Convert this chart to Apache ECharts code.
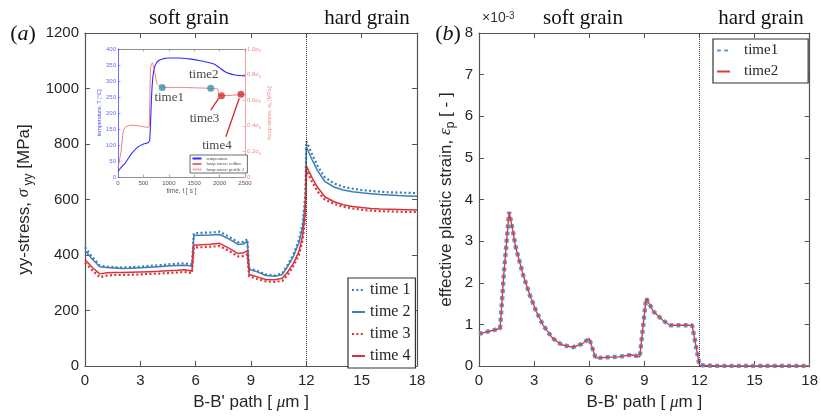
<!DOCTYPE html>
<html><head><meta charset="utf-8">
<script src="https://cdn.jsdelivr.net/npm/echarts@6/dist/echarts.min.js"></script>
<style>html,body{margin:0;padding:0;background:#fff}#c{width:821px;height:416px}</style>
</head><body><div id="c"></div>
<script>
// ---- panel (a): yy-stress along B-B' path ----
const pathX = [0,0.4,0.8,1.2,1.6,2.0,2.5,3.0,3.5,4.0,4.5,5.0,5.4,5.8,5.9,6.3,6.8,7.3,7.8,8.3,8.6,8.8,8.9,9.3,9.8,10.3,10.7,11.0,11.3,11.6,11.8,11.95,12.0,12.3,12.6,13.0,13.5,14.0,14.5,15.0,15.5,16.0,16.5,17.0,17.5,18.0];
const stressTime1 = [428,392,362,358,356,355,356,358,361,363,366,369,370,366,478,480,481,484,466,446,447,457,352,344,330,326,334,366,402,455,512,620,810,765,722,680,658,646,639,634,631,628,626,625,624,623];
const stressTime2 = [416,385,358,355,353,351,352,354,356,358,360,362,363,360,470,471,472,474,458,438,440,450,348,340,326,323,330,360,395,445,500,600,790,745,705,665,645,634,628,624,621,618,616,614,613,612];
const stressTime3 = [371,345,320,326,328,328,329,330,332,333,335,337,339,335,427,428,430,432,415,395,396,402,323,315,305,303,307,330,360,400,455,540,705,665,630,600,584,574,568,563,560,558,557,556,555,555];
const stressTime4 = [383,355,332,336,337,337,338,339,340,341,343,345,347,342,435,437,439,442,425,405,408,416,330,322,312,311,316,340,370,413,470,560,720,680,645,610,592,581,575,571,568,566,565,564,563,562];
const stressNames = ['time 1','time 2','time 3','time 4'];

// ---- panel (b): effective plastic strain (x10^-3) ----
const strainX = [0,0.5,1.15,1.35,1.64,1.82,2.0,2.4,2.76,3.12,3.48,4.0,4.5,5.1,5.6,6.0,6.35,7.0,7.6,8.3,8.75,9.1,9.5,10.0,10.4,11.0,11.6,12.0,13.0,14.0,15.0,16.0,17.0,18.0];
const strainTime1 = [0.77,0.83,0.90,2.20,3.70,3.30,2.85,2.19,1.71,1.31,0.99,0.67,0.51,0.45,0.53,0.66,0.19,0.21,0.22,0.27,0.22,1.63,1.31,1.10,0.98,0.98,0.98,0.02,0,0,0,0,0,0];
const strainTime2 = [0.77,0.83,0.90,2.20,3.70,3.30,2.85,2.19,1.71,1.31,0.99,0.67,0.51,0.45,0.53,0.66,0.19,0.21,0.22,0.27,0.22,1.63,1.31,1.10,0.98,0.98,0.98,0.02,0,0,0,0,0,0];
const strainNames = ['time1','time2'];

// ---- inset: temperature and hoop stress history ----
const timeT = [0,50,140,270,400,500,600,625,645,665,690,730,800,900,1000,1200,1400,1600,1800,1900,1950,2000,2100,2200,2300,2400,2500];
const temperature = [17,28,43,74,95,103,108,118,190,265,318,348,364,370,372,372,369,364,357,352,347,341,330,323,319,317,316];
const timeH = [0,60,105,150,200,270,400,600,615,640,660,680,700,734,768,833,900,1200,1500,1800,1900,1960,1975,1990,2100,2300,2500];
const hoopStress = [0.07,0.20,0.36,0.39,0.40,0.405,0.40,0.388,0.40,0.85,0.88,0.893,0.86,0.797,0.73,0.705,0.70,0.70,0.697,0.693,0.69,0.688,0.66,0.635,0.636,0.64,0.645];
const hoopProfile2 = [];
const markerNames = ['time1','time2','time3','time4'];
const markerT = [870,1825,2037,2420];
const markerV = [0.70,0.693,0.635,0.646];
const arrowFrom = [[1825,0.523],[2123,0.315]];
const arrowTo = [[1984,0.617],[2387,0.615]];
const insetNames = ['temperature','hoop stress: redline','hoop stress: profile 2'];

const blue = '#3f7db8', red = '#d9343a', axisColor = '#555', txt = '#262626';
const sans = 'Liberation Sans, Arial, sans-serif';
const serif = 'Liberation Serif, Times New Roman, serif';
const pairs = (xs, ys) => xs.map((x, i) => [x, ys[i]]);
const plain = v => String(v);

function frameX(gridIndex, position, min, max, interval, showLabel, extra) {
  return Object.assign({
    type: 'value', gridIndex, position, min, max, interval,
    axisLine: {show: true, onZero: false, lineStyle: {color: axisColor, width: 1.2}},
    axisTick: {show: true, inside: true, length: 5, lineStyle: {color: axisColor}},
    axisLabel: {show: showLabel, color: txt, fontSize: 15, fontFamily: sans, margin: 7, formatter: plain},
    splitLine: {show: false}
  }, extra || {});
}
function frameY(gridIndex, position, min, max, interval, showLabel, extra) {
  return Object.assign({
    type: 'value', gridIndex, position, min, max, interval,
    axisLine: {show: true, onZero: false, lineStyle: {color: axisColor, width: 1.2}},
    axisTick: {show: true, inside: true, length: 5, lineStyle: {color: axisColor}},
    axisLabel: {show: showLabel, color: txt, fontSize: 15, fontFamily: sans, margin: 6, formatter: plain},
    splitLine: {show: false}
  }, extra || {});
}
const xName = {
  name: "B-B' path [ {i|μ}m ]", nameLocation: 'middle', nameGap: 28,
  nameTextStyle: {fontSize: 17, color: txt, fontFamily: sans, rich: {i: {fontSize: 17, fontStyle: 'italic', fontFamily: serif, color: txt}}}
};
const subRich = {
  i: {fontSize: 17, fontStyle: 'italic', fontFamily: serif, color: txt, lineHeight: 22},
  s: {fontSize: 12, fontFamily: sans, color: txt, verticalAlign: 'bottom', lineHeight: 12}
};
const vline = {silent: true, symbol: 'none', label: {show: false}, data: [{xAxis: 12}],
  lineStyle: {type: 'dotted', color: '#333', width: 1}};
const noSymbol = {color: 'rgba(0,0,0,0)', borderWidth: 0, opacity: 0};

const insetAxisTick = {show: true, inside: true, length: 2.5};
const option = {
  animation: false,
  backgroundColor: '#fff',
  grid: [
    {left: 85, top: 33, width: 332, height: 333},
    {left: 118, top: 49, width: 127, height: 128, show: true, backgroundColor: '#fff', borderWidth: 0, z: 5},
    {left: 479, top: 33, width: 333, height: 333}
  ],
  xAxis: [
    frameX(0, 'bottom', 0, 18, 3, true, xName),
    frameX(0, 'top', 0, 18, 3, false),
    {type: 'value', gridIndex: 1, position: 'bottom', min: 0, max: 2500, interval: 500, z: 6,
      axisLine: {show: true, onZero: false, lineStyle: {color: '#777', width: 0.8}},
      axisTick: Object.assign({lineStyle: {color: '#777', width: 0.6}}, insetAxisTick),
      axisLabel: {color: '#555', fontSize: 6, fontFamily: sans, margin: 3, formatter: plain},
      splitLine: {show: false},
      name: 'time, t [ s ]', nameLocation: 'middle', nameGap: 11, nameTextStyle: {fontSize: 6.5, color: '#555', fontFamily: sans}},
    {type: 'value', gridIndex: 1, position: 'top', min: 0, max: 2500, interval: 500, z: 6,
      axisLine: {show: true, onZero: false, lineStyle: {color: '#777', width: 0.8}},
      axisTick: Object.assign({lineStyle: {color: '#777', width: 0.6}}, insetAxisTick),
      axisLabel: {show: false}, splitLine: {show: false}},
    frameX(2, 'bottom', 0, 18, 3, true, xName),
    frameX(2, 'top', 0, 18, 3, false)
  ],
  yAxis: [
    frameY(0, 'left', 0, 1200, 200, true, {
      name: 'yy-stress, {i|σ}{s| yy} [MPa]', nameLocation: 'middle', nameGap: 50, nameRotate: 90,
      nameTextStyle: {fontSize: 17, color: txt, fontFamily: sans, lineHeight: 22, rich: subRich}}),
    frameY(0, 'right', 0, 1200, 200, false),
    {type: 'value', gridIndex: 1, position: 'left', min: 0, max: 400, interval: 50, z: 6,
      axisLine: {show: true, onZero: false, lineStyle: {color: '#4a4aff', width: 0.8}},
      axisTick: Object.assign({lineStyle: {color: '#4a4aff', width: 0.6}}, insetAxisTick),
      axisLabel: {color: '#6a6aff', fontSize: 6, fontFamily: sans, margin: 2, formatter: plain},
      splitLine: {show: false},
      name: 'temperature, T [°C]', nameLocation: 'middle', nameGap: 14, nameRotate: 90,
      nameTextStyle: {fontSize: 5.5, color: '#4a4aff', fontFamily: sans}},
    {type: 'value', gridIndex: 1, position: 'right', min: 0, max: 1, interval: 0.2, z: 6,
      axisLine: {show: true, onZero: false, lineStyle: {color: '#f08a8a', width: 0.8}},
      axisTick: Object.assign({lineStyle: {color: '#f08a8a', width: 0.6}}, insetAxisTick),
      axisLabel: {color: '#f08a8a', fontSize: 6, fontFamily: sans, margin: 2,
        formatter: v => v === 0 ? '0' : '{n|' + v.toFixed(1) + 'σ}{s|0}',
        rich: {n: {fontSize: 6, color: '#f08a8a', fontFamily: sans, lineHeight: 8},
               s: {fontSize: 4, color: '#f08a8a', fontFamily: sans, verticalAlign: 'bottom', lineHeight: 4}}},
      splitLine: {show: false},
      name: 'hoop stress, {i|σ}{s|h} [MPa]', nameLocation: 'middle', nameGap: 16, nameRotate: 90,
      nameTextStyle: {fontSize: 5.5, color: '#f08a8a', fontFamily: sans, lineHeight: 8,
        rich: {i: {fontSize: 5.5, fontStyle: 'italic', color: '#f08a8a', lineHeight: 8},
               s: {fontSize: 4, color: '#f08a8a', verticalAlign: 'bottom', lineHeight: 4}}}},
    frameY(2, 'left', 0, 8, 1, true, {
      name: 'effective plastic strain, {i|ε}{s|p} [ - ]', nameLocation: 'middle', nameGap: 22, nameRotate: 90,
      nameTextStyle: {fontSize: 17, color: txt, fontFamily: sans, lineHeight: 22, rich: subRich}}),
    frameY(2, 'right', 0, 8, 1, false)
  ],
  legend: [
    {data: stressNames, orient: 'vertical', left: 348, top: 278, itemWidth: 13, itemHeight: 14, itemGap: 6,
      padding: [4, 5, 4, 3], borderColor: '#333', borderWidth: 1.2, backgroundColor: '#fff', itemStyle: noSymbol,
      textStyle: {fontFamily: serif, fontSize: 16, color: txt}},
    {data: strainNames, orient: 'vertical', left: 713, top: 39, itemWidth: 13, itemHeight: 14, itemGap: 6,
      padding: [4, 30, 4, 3], borderColor: '#333', borderWidth: 1.2, backgroundColor: '#fff', itemStyle: noSymbol,
      textStyle: {fontFamily: serif, fontSize: 15, color: txt, padding: [0, 0, 0, 9]}},
    {data: insetNames, orient: 'vertical', left: 190, top: 155, itemWidth: 9, itemHeight: 4, itemGap: 0.5,
      padding: [1, 3, 1, 1.5], borderColor: '#444', borderWidth: 0.8, backgroundColor: '#fff', z: 10, itemStyle: noSymbol,
      textStyle: {fontFamily: serif, fontSize: 4.5, color: '#444'}}
  ],
  graphic: [
    {type: 'text', x: 189, y: 18, style: {text: 'soft grain', fontSize: 21, fontFamily: serif, fill: '#111', align: 'center', verticalAlign: 'middle'}},
    {type: 'text', x: 367, y: 18, style: {text: 'hard grain', fontSize: 21, fontFamily: serif, fill: '#111', align: 'center', verticalAlign: 'middle'}},
    {type: 'text', x: 583, y: 18, style: {text: 'soft grain', fontSize: 21, fontFamily: serif, fill: '#111', align: 'center', verticalAlign: 'middle'}},
    {type: 'text', x: 761, y: 18, style: {text: 'hard grain', fontSize: 21, fontFamily: serif, fill: '#111', align: 'center', verticalAlign: 'middle'}},
    {type: 'text', x: 23, y: 34, style: {text: '({i|a})', fontSize: 22, fontFamily: serif, fill: '#111', align: 'center', verticalAlign: 'middle',
      rich: {i: {fontSize: 22, fontFamily: serif, fontStyle: 'italic', fill: '#111'}}}},
    {type: 'text', x: 448, y: 34, style: {text: '({i|b})', fontSize: 22, fontFamily: serif, fill: '#111', align: 'center', verticalAlign: 'middle',
      rich: {i: {fontSize: 22, fontFamily: serif, fontStyle: 'italic', fill: '#111'}}}},
    {type: 'text', x: 482, y: 18, style: {text: '×10{s|-3}', fontSize: 14, fontFamily: sans, fill: '#333', align: 'left', verticalAlign: 'middle',
      rich: {s: {fontSize: 10, fontFamily: sans, fill: '#333', verticalAlign: 'top', lineHeight: 10}}}}
  ],
  series: [
    {name: 'time 1', type: 'line', xAxisIndex: 0, yAxisIndex: 0, data: pairs(pathX, stressTime1), symbol: 'none',
      lineStyle: {color: blue, width: 2.2, type: [2, 2.4], cap: 'butt'}, itemStyle: {color: blue}, markLine: vline},
    {name: 'time 2', type: 'line', xAxisIndex: 0, yAxisIndex: 0, data: pairs(pathX, stressTime2), symbol: 'none',
      lineStyle: {color: blue, width: 1.5}, itemStyle: {color: blue}},
    {name: 'time 3', type: 'line', xAxisIndex: 0, yAxisIndex: 0, data: pairs(pathX, stressTime3), symbol: 'none',
      lineStyle: {color: red, width: 2.2, type: [2, 2.4], cap: 'butt'}, itemStyle: {color: red}},
    {name: 'time 4', type: 'line', xAxisIndex: 0, yAxisIndex: 0, data: pairs(pathX, stressTime4), symbol: 'none',
      lineStyle: {color: red, width: 1.5}, itemStyle: {color: red}},

    {name: 'temperature', type: 'line', xAxisIndex: 2, yAxisIndex: 2, data: pairs(timeT, temperature), symbol: 'none', smooth: 0.3, z: 7,
      lineStyle: {color: '#2b2bff', width: 1.1}, itemStyle: {color: '#2b2bff'}},
    {name: 'hoop stress: redline', type: 'line', xAxisIndex: 2, yAxisIndex: 3, data: pairs(timeH, hoopStress), symbol: 'none', smooth: 0.2, z: 7,
      lineStyle: {color: '#ec7070', width: 0.9}, itemStyle: {color: '#ec7070'}},
    {name: 'hoop stress: profile 2', type: 'line', xAxisIndex: 2, yAxisIndex: 3, data: hoopProfile2, symbol: 'none', z: 7,
      lineStyle: {color: '#f6b0b0', width: 0.8}, itemStyle: {color: '#f6b0b0'}},
    {name: 'markers', type: 'scatter', xAxisIndex: 2, yAxisIndex: 3, symbolSize: 7, z: 8,
      data: markerNames.map((n, i) => ({
        name: n, value: [markerT[i], markerV[i]],
        itemStyle: {color: i < 2 ? '#3a8fa8' : '#d42a2a'},
        label: {offset: [[7, 10], [-7, -14], [-17, 23], [-24, 51]][i]}
      })),
      label: {show: true, position: 'inside', formatter: p => p.name, fontFamily: serif, fontSize: 13, color: '#111'},
      markLine: {silent: true, symbol: ['none', 'arrow'], symbolSize: [0, 6], label: {show: false},
        lineStyle: {color: '#d42a2a', width: 1.3, type: 'solid'},
        data: arrowFrom.map((f, i) => [{coord: f}, {coord: arrowTo[i]}])}},

    {name: 'time1', type: 'line', xAxisIndex: 4, yAxisIndex: 4, data: pairs(strainX, strainTime1), symbol: 'none',
      lineStyle: {color: '#5e9ad0', width: 4.4, type: [3.8, 3.4], cap: 'butt'}, itemStyle: {color: '#5e9ad0'}, markLine: vline},
    {name: 'time2', type: 'line', xAxisIndex: 4, yAxisIndex: 4, data: pairs(strainX, strainTime2), symbol: 'none',
      lineStyle: {color: '#e0383e', width: 1.4}, itemStyle: {color: '#e0383e'}}
  ]
};
const chart = echarts.init(document.getElementById('c'), null, {renderer: 'canvas'});
chart.setOption(option);
</script>
</body></html>
